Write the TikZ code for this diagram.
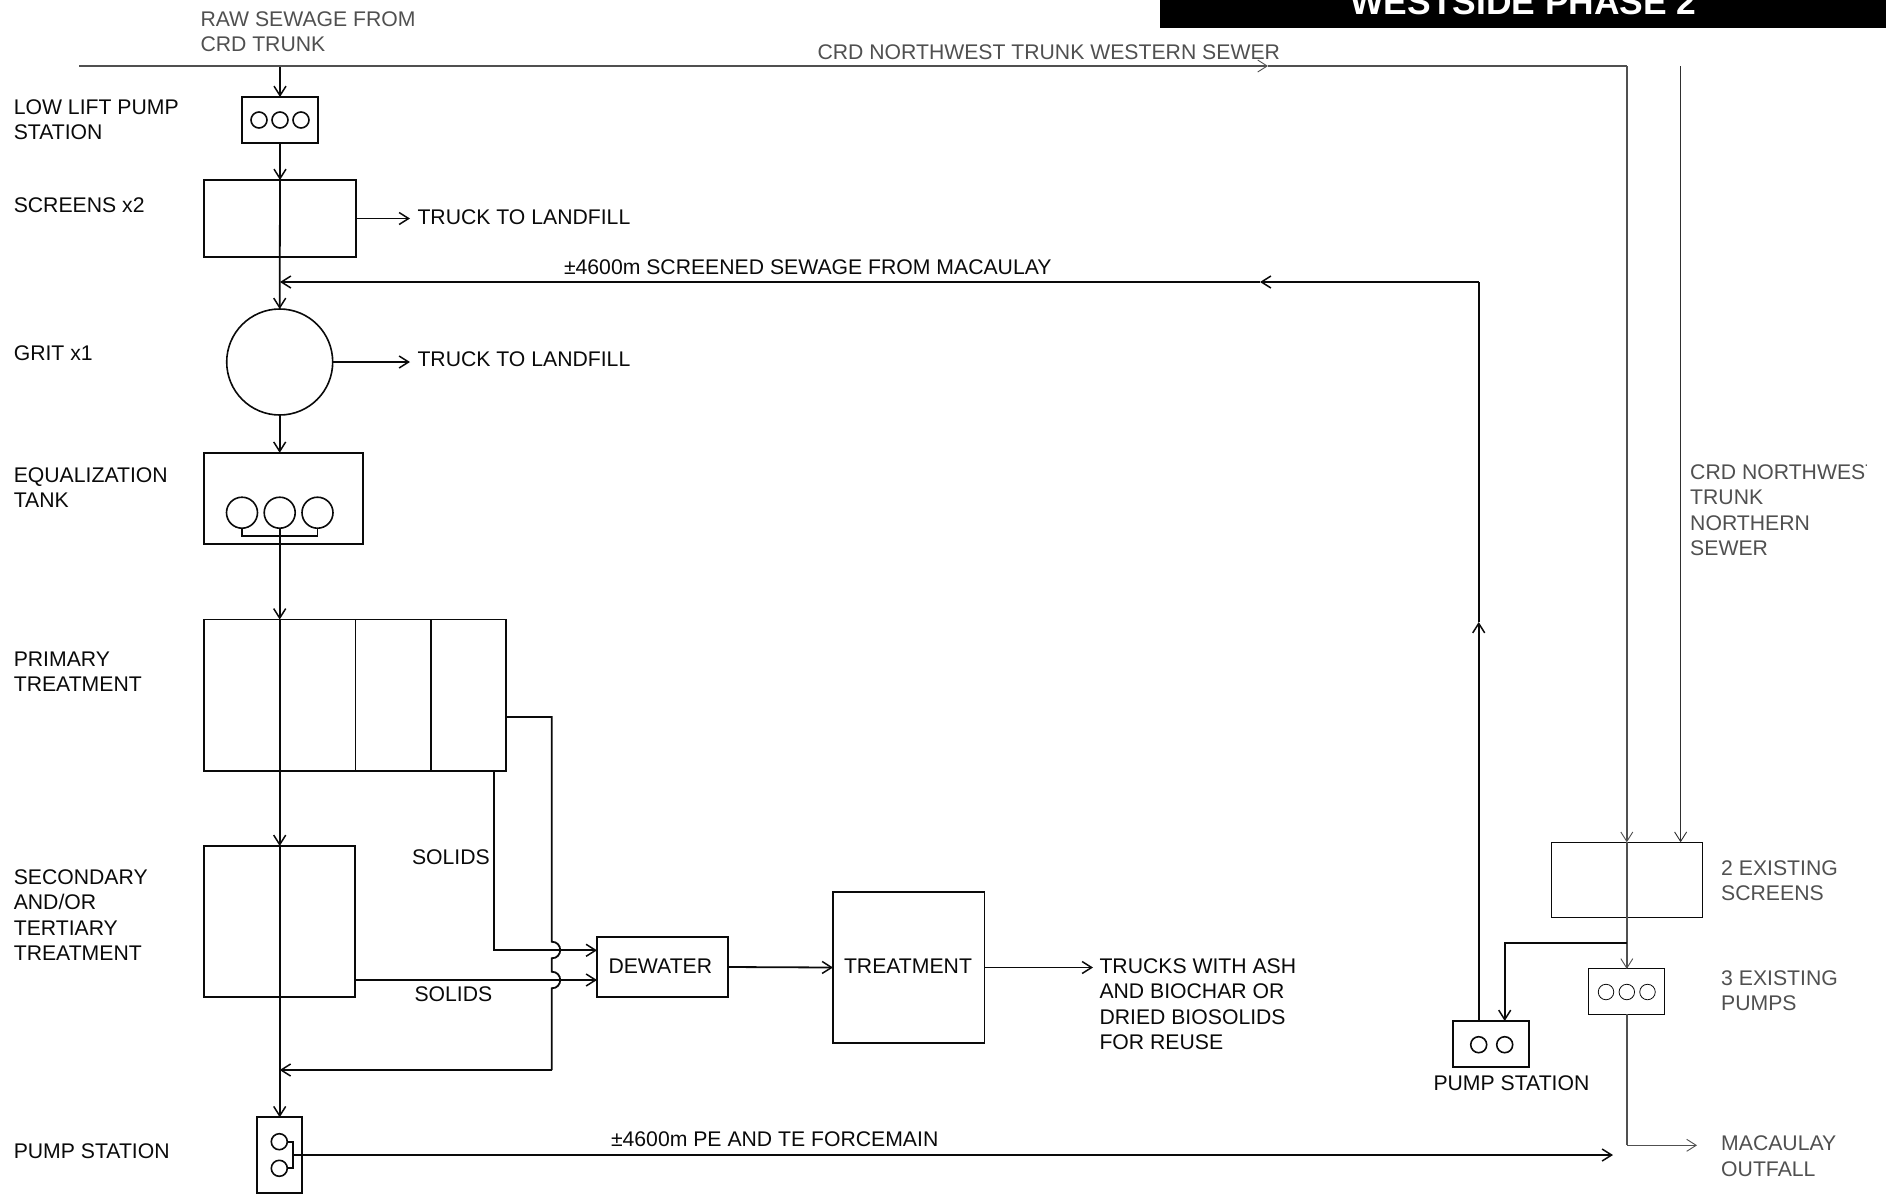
\documentclass[tikz,border=0pt]{standalone}
\usepackage{fontspec}
\setmainfont{Liberation Sans}
\usetikzlibrary{arrows.meta}
\definecolor{ink}{HTML}{0A0A0A}
\definecolor{greyink}{HTML}{505050}
\tikzset{
  x=1pt,y=-1pt,
  lab/.style={anchor=base west,inner sep=0pt,outer sep=0pt,align=left,font=\fontsize{21.2}{25.3}\selectfont,text=ink},
  glab/.style={lab,text=greyink},
  boxb/.style={draw=ink,line width=1.8pt,rectangle,inner sep=0pt,outer sep=0pt},
  boxg/.style={draw=ink,line width=1pt,rectangle,inner sep=0pt,outer sep=0pt},
  pumpb/.style={draw=ink,line width=1.6pt,circle,inner sep=0pt,outer sep=0pt,minimum size=16pt},
  pumpg/.style={draw=ink,line width=.8pt,circle,inner sep=0pt,outer sep=0pt,minimum size=15.5pt},
  lineb/.style={draw=ink,line width=1.8pt,line join=miter},
  lineg/.style={draw=greyink,line width=1.6pt,line join=miter},
  linet/.style={draw=ink!85,line width=1.1pt},
  arrb/.style={lineb,-{Straight Barb[length=9.5pt,width=12pt,line width=1.5pt]}},
  arrg/.style={lineg,-{Straight Barb[length=9.5pt,width=12pt,line width=.9pt]}},
  arrt/.style={linet,-{Straight Barb[length=9.5pt,width=12pt,line width=.9pt]}},
}
\begin{document}
\begin{tikzpicture}
\useasboundingbox (0,0) rectangle (1886,1194);
% title
\node[fill=black,inner sep=0pt,outer sep=0pt,minimum width=726.4pt,minimum height=28pt] (banner) at (1523.2,14) {};
\begin{scope}
\clip (1160,0) rectangle (1886,28);
\node[anchor=base,inner sep=0pt,text=white,font=\fontsize{35.4}{36}\selectfont\bfseries] (bannertext) at (1523.5,14) {WESTSIDE PHASE 2};
\end{scope}
% process boxes
\node[boxb,minimum width=76pt,minimum height=46pt] (lowlift) at (280,120) {};
\node[boxb,minimum width=152pt,minimum height=77pt] (screens) at (280,218.5) {};
\node[draw=ink,line width=1.6pt,circle,inner sep=0pt,outer sep=0pt,minimum size=106pt] (grit) at (279.7,362) {};
\node[boxb,minimum width=159pt,minimum height=91pt] (eq) at (283.5,498.3) {};
\node[boxb,minimum width=302pt,minimum height=151.2pt] (primary) at (355,695.1) {};
\node[boxb,minimum width=151.3pt,minimum height=151pt] (secondary) at (279.7,921.5) {};
\node[boxb,minimum width=131pt,minimum height=60pt] (dewater) at (662.5,967) {};
\node[boxb,minimum width=151.5pt,minimum height=151pt] (treatment) at (908.75,967.5) {};
\node[boxb,minimum width=45.3pt,minimum height=75.4pt] (ps) at (279.3,1155) {};
\node[boxb,minimum width=76pt,minimum height=46pt] (psr) at (1491,1044) {};
\node[boxg,minimum width=151pt,minimum height=75.4pt] (exscreen) at (1626.8,880) {};
\node[boxg,minimum width=75.7pt,minimum height=45.3pt] (expump) at (1626.8,991.6) {};
% pumps
\node[pumpb] (ll1) at (259,120) {};
\node[pumpb] (ll2) at (280,120) {};
\node[pumpb] (ll3) at (301,120) {};
\node[draw=ink,line width=1.6pt,circle,inner sep=0pt,outer sep=0pt,minimum size=31pt] (eq1) at (242,512.7) {};
\node[draw=ink,line width=1.6pt,circle,inner sep=0pt,outer sep=0pt,minimum size=31pt] (eq2) at (279.7,512.7) {};
\node[draw=ink,line width=1.6pt,circle,inner sep=0pt,outer sep=0pt,minimum size=31pt] (eq3) at (317.5,512.7) {};
\node[pumpb] (ps1) at (279.3,1141.7) {};
\node[pumpb] (ps2) at (279.3,1168.3) {};
\node[pumpb] (psr1) at (1478.7,1044.7) {};
\node[pumpb] (psr2) at (1504.7,1044.7) {};
\node[pumpg] (ex1) at (1606,992) {};
\node[pumpg] (ex2) at (1626.8,992) {};
\node[pumpg] (ex3) at (1647.5,992) {};
% coordinates
\coordinate (trunkstart) at (79,66);
\coordinate (trunkjoin) at (280,66);
\coordinate (trunkmid) at (1268,66);
\coordinate (trunkcorner) at (1626.8,66);
\coordinate (exin1) at (1626.8,842.3);
\coordinate (north) at (1680.6,66);
\coordinate (exin2) at (1680.6,842.3);
\coordinate (screenin) at (280,180);
\coordinate (retjoin) at (280,282);
\coordinate (retcorner) at (1478.7,282);
\coordinate (retmid) at (1260,282);
\coordinate (retup) at (1478.7,622);
\coordinate (psrout) at (1478.7,1021);
\coordinate (truck1) at (410,218.5);
\coordinate (truck2) at (410,362);
\coordinate (eqtop) at (279.7,452.8);
\coordinate (primtop) at (279.7,619.5);
\coordinate (sectop) at (279.7,846);
\coordinate (pstop) at (279.7,1117.3);
\coordinate (recyc) at (279.7,1070);
\coordinate (eqa) at (242,536);
\coordinate (eqb) at (317.5,536);
\coordinate (primr) at (506,717);
\coordinate (primrc) at (551.7,717);
\coordinate (h1a) at (551.7,941.7);
\coordinate (h1b) at (551.7,958.3);
\coordinate (h2a) at (551.7,971.7);
\coordinate (h2b) at (551.7,988.3);
\coordinate (recycc) at (551.7,1070);
\coordinate (primb) at (493.7,770.7);
\coordinate (primbc) at (493.7,950.3);
\coordinate (dwa) at (597,950.3);
\coordinate (dwb) at (597,980);
\coordinate (secr) at (355.3,980);
\coordinate (trout) at (1093,967.5);
\coordinate (psm) at (293.3,1155);
\coordinate (psma) at (293.3,1141.7);
\coordinate (psmb) at (293.3,1168.3);
\coordinate (psend) at (1613,1155);
\coordinate (branch) at (1626.8,943.3);
\coordinate (branchc) at (1504.7,943.3);
\coordinate (psrin) at (1504.7,1021);
\coordinate (excorner) at (1626.8,1145.3);
\coordinate (exend) at (1697,1145.3);
% dividers
\draw[lineb] (355.4,619.5) -- (355.4,770.7);
\draw[lineb] (431,619.5) -- (431,770.7);
% main flow
\draw[arrb] (trunkjoin) -- (lowlift.north);
\draw[arrb] (lowlift.south) -- (screenin);
\draw[arrb] (screenin) -- (grit.north);
\draw[arrb] (screens.east) -- (truck1);
\draw[arrb] (grit.east) -- (truck2);
\draw[arrb] (grit.south) -- (eqtop);
\draw[lineb] (eq1.south) -- (eqa) -- (eqb) -- (eq3.south);
\draw[arrb] (eq2.south) -- (primtop);
\draw[arrb] (primtop) -- (sectop);
\draw[arrb] (sectop) -- (pstop);
% return
\draw[arrb] (retcorner) -- (retmid);
\draw[arrb] (retmid) -- (retjoin);
\draw[arrb] (psrout) -- (retup);
\draw[lineb] (retup) -- (retcorner);
% solids
\draw[lineb] (primr) -- (primrc) -- (h1a) .. controls (563,941.7) and (563,958.3) .. (h1b) -- (h2a) .. controls (563,971.7) and (563,988.3) .. (h2b) -- (recycc);
\draw[arrb] (recycc) -- (recyc);
\draw[arrb] (primb) -- (primbc) -- (dwa);
\draw[arrb] (secr) -- (dwb);
\draw[arrb] (dewater.east) -- (treatment.west);
\draw[arrb] (treatment.east) -- (trout);
% forcemain
\draw[lineb] (ps1.east) -- (psma) -- (psmb) -- (ps2.east);
\draw[arrb] (psm) -- (psend);
% existing
\draw[arrg] (trunkstart) -- (trunkmid);
\draw[lineg] (trunkmid) -- (trunkcorner);
\draw[arrg] (trunkcorner) -- (exin1);
\draw[arrt] (north) -- (exin2);
\draw[arrg] (exin1) -- (expump.north);
\draw[arrb] (branch) -- (branchc) -- (psrin);
\draw[lineg] (expump.south) -- (excorner);
\draw[arrg] (excorner) -- (exend);
% labels (a multi-line node has its base at its last line)
\node[glab] (lraw) at (200.5,51.5) {RAW SEWAGE FROM\\CRD TRUNK};
\node[glab] (lwest) at (817.5,59) {CRD NORTHWEST TRUNK WESTERN SEWER};
\node[lab] (llow) at (13.8,139.5) {LOW LIFT PUMP\\STATION};
\node[lab] (lscr) at (13.8,212) {SCREENS x2};
\node[lab] (ltr1) at (417.5,224.5) {TRUCK TO LANDFILL};
\node[lab] (lret) at (564,274.5) {±4600m SCREENED SEWAGE FROM MACAULAY};
\node[lab] (lgrit) at (13.8,360) {GRIT x1};
\node[lab] (ltr2) at (417.5,366.5) {TRUCK TO LANDFILL};
\node[lab] (leq) at (13.8,507.5) {EQUALIZATION\\TANK};
\node[lab] (lprim) at (13.8,691.3) {PRIMARY\\TREATMENT};
\node[lab] (lsec) at (13.8,960.4) {SECONDARY\\AND/OR\\TERTIARY\\TREATMENT};
\node[lab] (lsol1) at (412,864.5) {SOLIDS};
\node[lab] (lsol2) at (414.5,1001.5) {SOLIDS};
\node[lab] (ldew) at (608.5,973) {DEWATER};
\node[lab] (ltreat) at (844,973) {TREATMENT};
\node[lab] (ltrucks) at (1099.5,1049.4) {TRUCKS WITH ASH\\AND BIOCHAR OR\\DRIED BIOSOLIDS\\FOR REUSE};
\node[lab] (lps) at (13.8,1158.5) {PUMP STATION};
\node[lab] (lfm) at (611,1146.5) {±4600m PE AND TE FORCEMAIN};
\begin{scope}
\clip (1685,440) rectangle (1866,570);
\node[glab] (lnorth) at (1690.2,555.4) {CRD NORTHWEST\\TRUNK\\NORTHERN\\SEWER};
\end{scope}
\node[glab] (lexs) at (1721.2,900.8) {2 EXISTING\\SCREENS};
\node[glab] (lexp) at (1721.2,1010.5) {3 EXISTING\\PUMPS};
\node[glab] (lmac) at (1721.2,1176.1) {MACAULAY\\OUTFALL};
\node[lab] (lpsr) at (1433.5,1090.5) {PUMP STATION};
\end{tikzpicture}
\end{document}
